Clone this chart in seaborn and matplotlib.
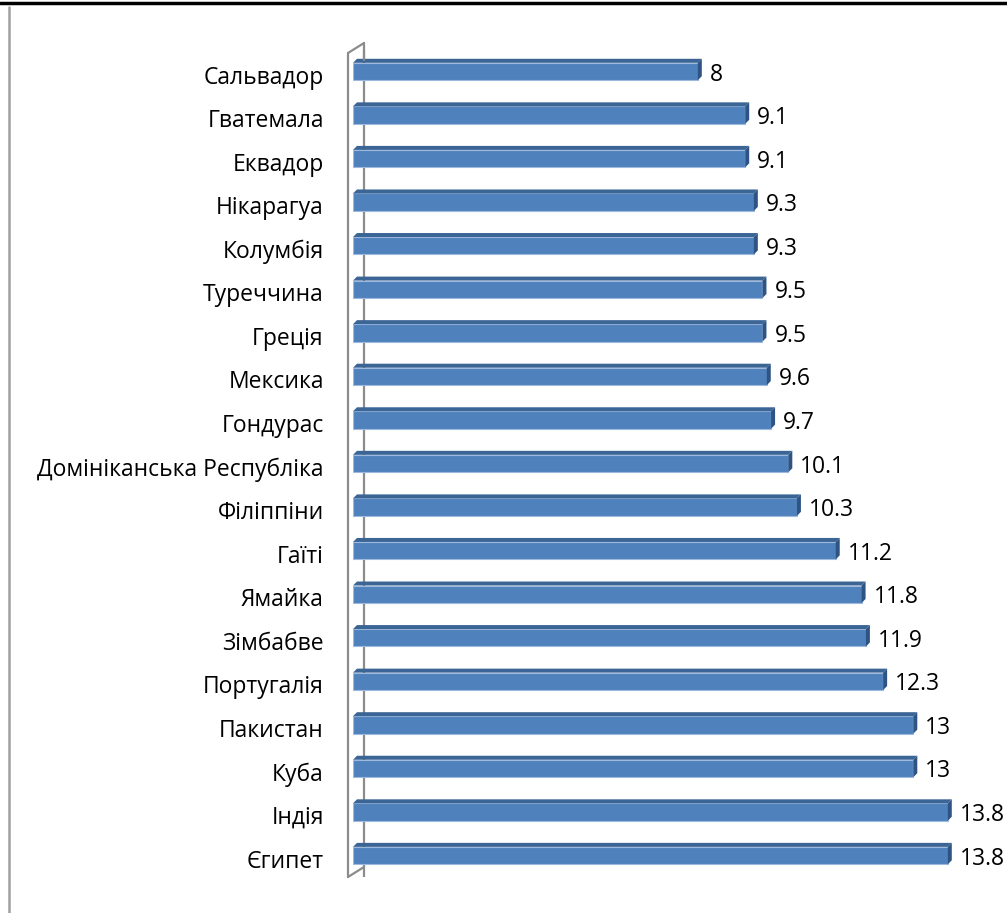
import matplotlib
matplotlib.use("Agg")
import matplotlib.pyplot as plt
import seaborn as sns
import pandas as pd
from matplotlib.patches import Polygon
from matplotlib.lines import Line2D

# dados do gráfico
countries = ['Сальвадор', 'Гватемала', 'Еквадор', 'Нікарагуа', 'Колумбія',
             'Туреччина', 'Греція', 'Мексика', 'Гондурас',
             'Домініканська Республіка', 'Філіппіни', 'Гаїті', 'Ямайка',
             'Зімбабве', 'Португалія', 'Пакистан', 'Куба', 'Індія', 'Єгипет']
values = [8, 9.1, 9.1, 9.3, 9.3, 9.5, 9.5, 9.6, 9.7, 10.1, 10.3, 11.2,
          11.8, 11.9, 12.3, 13, 13, 13.8, 13.8]
value_labels = ['8', '9.1', '9.1', '9.3', '9.3', '9.5', '9.5', '9.6', '9.7',
                '10.1', '10.3', '11.2', '11.8', '11.9', '12.3', '13', '13',
                '13.8', '13.8']

df = pd.DataFrame({'country': countries, 'value': values})

sns.set_style('white')
plt.rcParams['font.family'] = ['Open Sans', 'DejaVu Sans']

W, H = 1007, 913
fig = plt.figure(figsize=(W / 100, H / 100), dpi=100)

def fx(px):
    return px / W

def fy(py):
    return 1 - py / H

# eixo: zero em x=353px, 43.1 px por unidade
x0_px, ppu = 353, 43.1
xmax = 15.0
row0, step = 71.5, 43.56
top_px = row0 - step / 2
bot_px = row0 + step * 18.5
ax = fig.add_axes([fx(x0_px), fy(bot_px), xmax * ppu / W, (bot_px - top_px) / H])

front = '#4F81BD'
sns.barplot(data=df, y='country', x='value', order=countries, color=front,
            width=0.4, saturation=1, ax=ax, zorder=3)
ax.set_xlim(0, xmax)
ax.set_ylim(18.5, -0.5)

for p in ax.patches:
    p.set_edgecolor('#9DB9DE')
    p.set_linewidth(0.8)

# efeito 3D (face superior e lateral)
dx = 4 / ppu
dy = 4 / step
for p in list(ax.patches):
    x1 = p.get_x() + p.get_width()
    ya = p.get_y()
    yb = p.get_y() + p.get_height()
    yt = min(ya, yb)
    ybt = max(ya, yb)
    top = Polygon([(p.get_x(), yt), (p.get_x() + dx, yt - dy), (x1 + dx, yt - dy), (x1, yt)],
                  closed=True, facecolor='#3B6595', edgecolor='none', zorder=3)
    side = Polygon([(x1, yt), (x1 + dx, yt - dy), (x1 + dx, ybt - dy), (x1, ybt)],
                   closed=True, facecolor='#2E5483', edgecolor='none', zorder=3)
    ax.add_patch(top)
    ax.add_patch(side)

fs = 16.5
for i, (v, lab) in enumerate(zip(values, value_labels)):
    ax.text(v + 12 / ppu, i + 3 / step, lab, va='center', ha='left',
            fontsize=fs, color='black', clip_on=False)

ax.set_yticks([i + 3 / step for i in range(len(countries))], countries, fontsize=fs)
ax.tick_params(axis='y', length=0, pad=21, labelcolor='black')
ax.set_xticks([])
ax.set_xlabel('')
ax.set_ylabel('')
for s in ax.spines.values():
    s.set_visible(False)

# parede 3D
wall = '#8C8C8C'
pts_front = [(348, 53), (348, 877)]
pts_back = [(364, 43), (364, 867)]
for (a, b) in [(pts_front[0], pts_front[1]), (pts_back[0], (364, 60)),
               (pts_front[0], pts_back[0]), (pts_front[1], pts_back[1])]:
    fig.add_artist(Line2D([fx(a[0]), fx(b[0])], [fy(a[1]), fy(b[1])],
                          color=wall, lw=1.6, zorder=1))
ax.axvline(11 / ppu, color=wall, lw=1.6, zorder=1)

# moldura
fig.add_artist(Line2D([0, 1], [fy(3.5), fy(3.5)], color='black', lw=2.5))
fig.add_artist(Line2D([fx(8.5), fx(8.5)], [fy(7), 0], color='#A0A0A0', lw=1.8))

fig.savefig('out.png', dpi=100)
